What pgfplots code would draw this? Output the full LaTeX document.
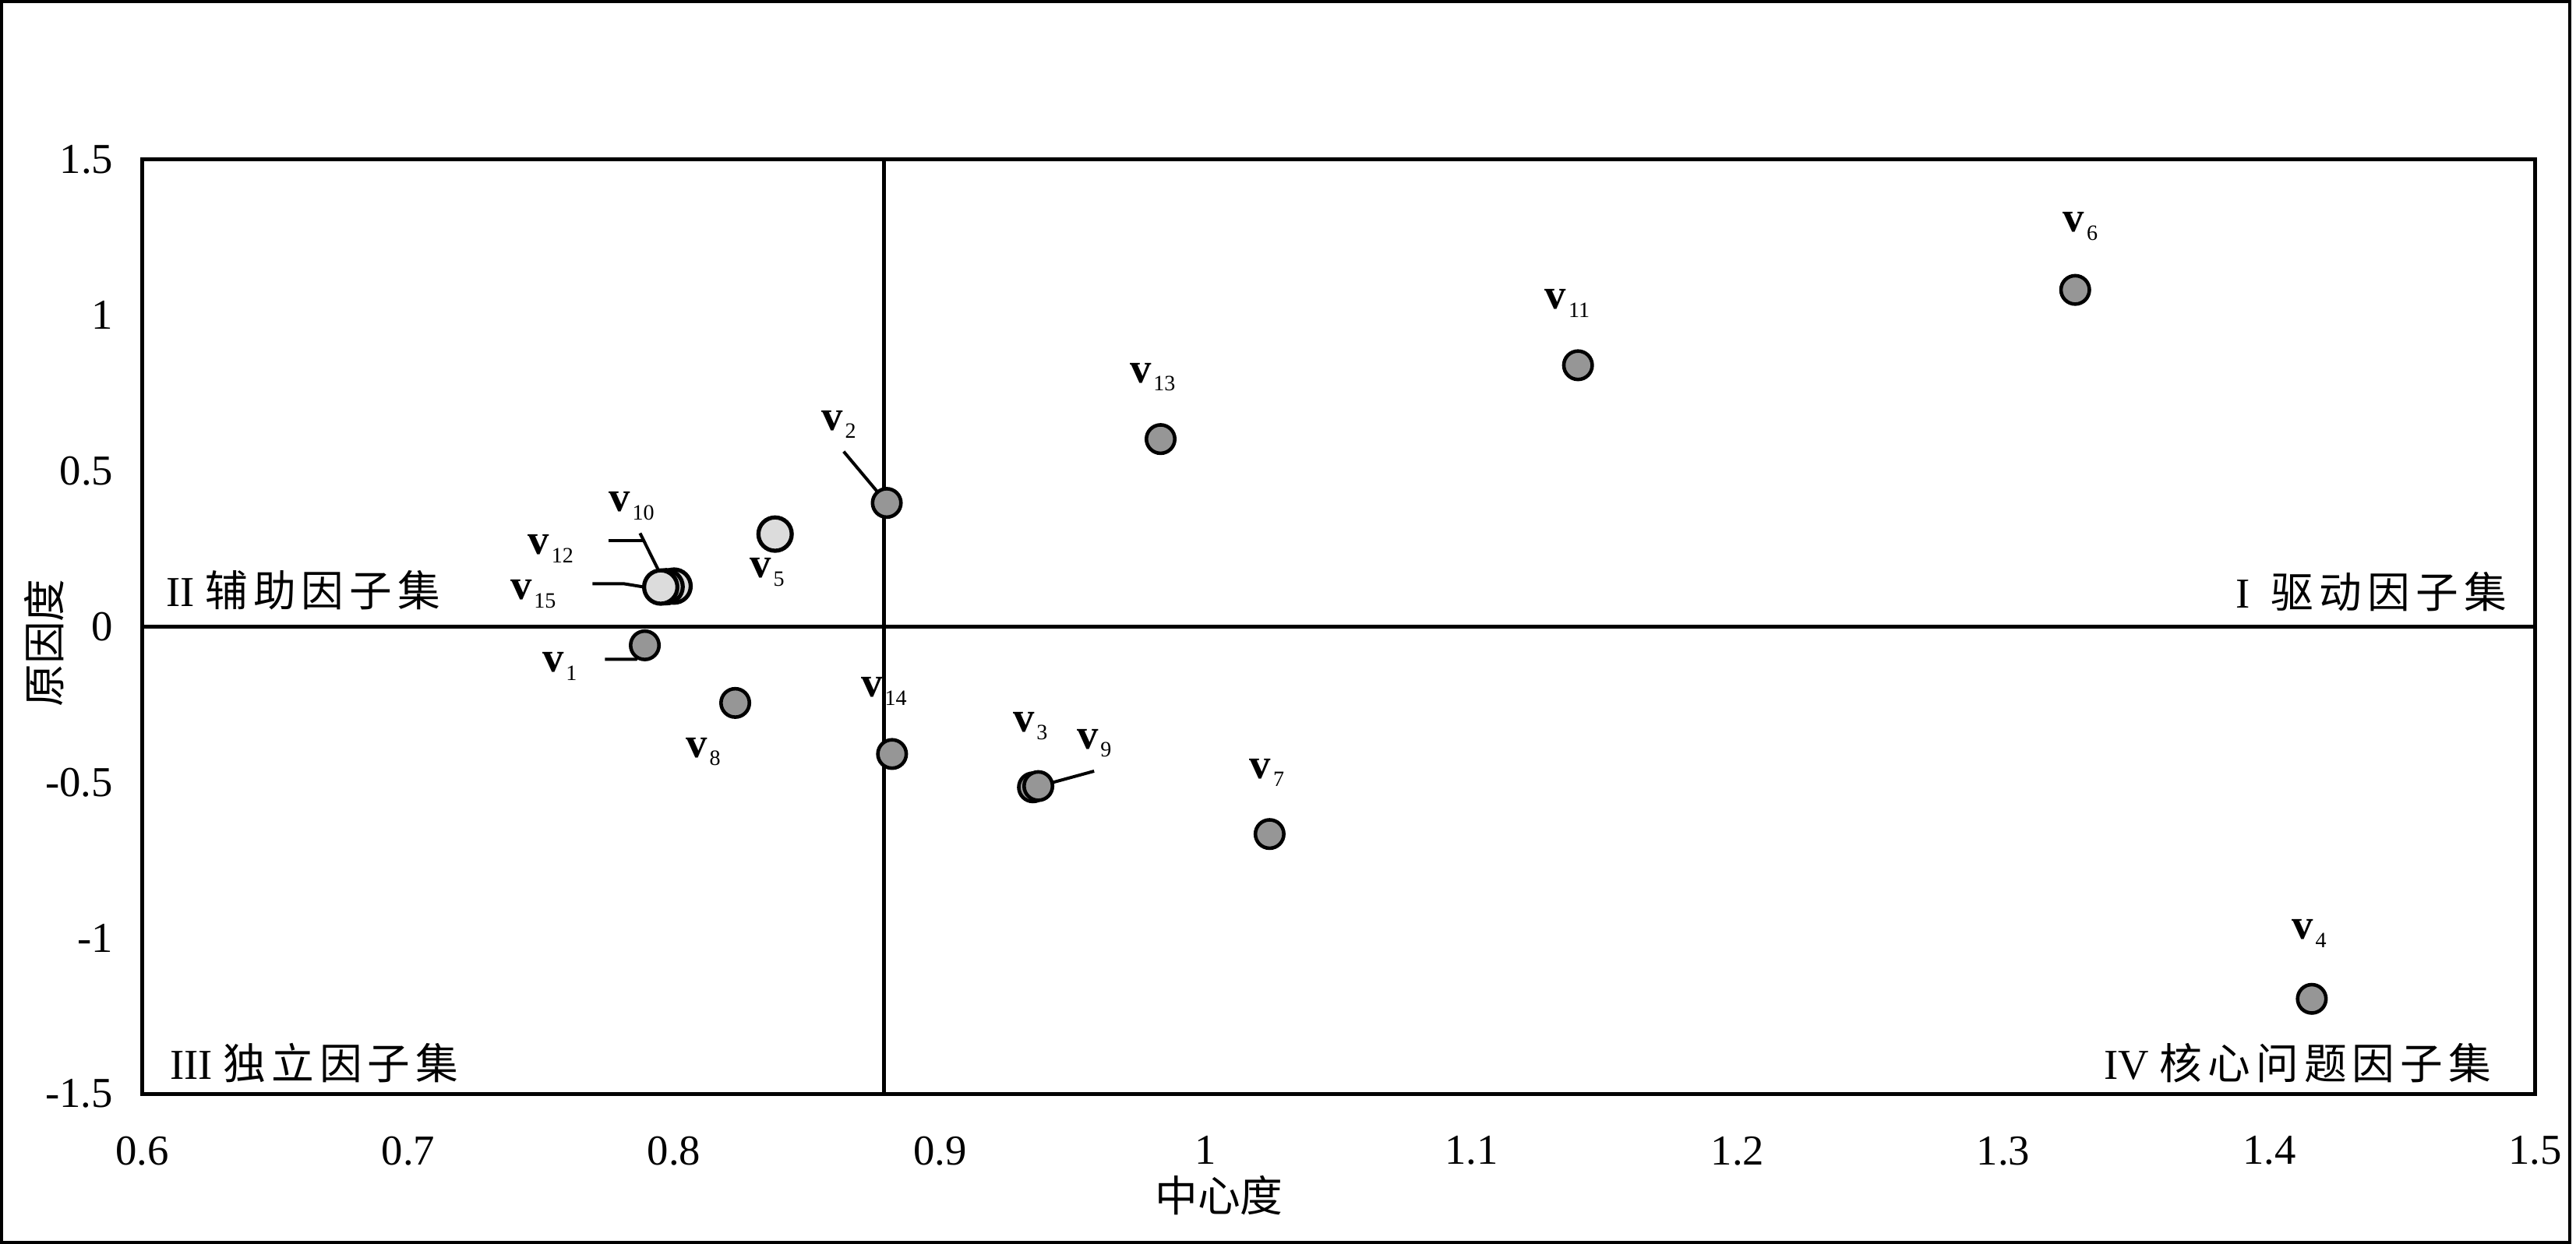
\documentclass[border=0pt]{standalone}
\usepackage{fontspec}
\setmainfont{Liberation Serif}
\newfontfamily\cjk{Noto Sans CJK SC}
\newfontfamily\cjkq[LetterSpace=13]{Noto Sans CJK SC}
\usepackage{pgfplots}
\pgfplotsset{compat=1.18}
\definecolor{ptgray}{HTML}{969696}
\definecolor{ptlight}{HTML}{DCDCDC}
% label "v" with subscript
\newcommand{\vl}[1]{\textbf{v}\kern0.4pt\raisebox{-1.5pt}{\fontsize{4}{5}\selectfont #1}}

\begin{document}
\fontsize{7.8}{9}\selectfont
\begin{tikzpicture}
\draw[line width=0.57pt] (0.01,0.01) rectangle (16.52,7.99);
\begin{axis}[
    at={(0.915cm,0.965cm)}, anchor=south west,
    scale only axis,
    width=15.385cm, height=6.01cm,
    xmin=0.6, xmax=1.5,
    ymin=-1.5, ymax=1.5,
    xtick={0.6,0.7,0.8,0.9,1,1.1,1.2,1.3,1.4,1.5},
    ytick={-1.5,-1,-0.5,0,0.5,1,1.5},
    major tick length=0pt,
    axis line style={line width=0.7pt},
    /pgf/number format/assume math mode=true,
    tick label style={font=\fontsize{7.8}{9}\selectfont},
    xticklabel style={yshift=-0.175cm},
    yticklabel style={xshift=-0.09cm},
    xlabel={\cjk 中心度},
    ylabel={\cjk 原因度},
    label style={font=\fontsize{7.8}{9}\selectfont},
    xlabel style={at={(axis description cs:0.45,-0.109)}, anchor=center},
    ylabel style={at={(axis description cs:-0.041,0.4825)}, anchor=center},
    clip=false,
]

% quadrant lines
\addplot[black, line width=0.7pt] coordinates {(0.6,0) (1.5,0)};
\addplot[black, line width=0.7pt] coordinates {(0.879,-1.5) (0.879,1.5)};

% leader lines
\draw[line width=0.57pt] (axis cs:0.8638,0.562) -- (axis cs:0.880,0.397);
\draw[line width=0.57pt] (axis cs:0.7872,0.300) -- (axis cs:0.7939,0.185);
\draw[line width=0.57pt] (axis cs:0.7755,0.275) -- (axis cs:0.7884,0.275);
\draw[line width=0.57pt] (axis cs:0.7693,0.1374) -- (axis cs:0.7813,0.1374) -- (axis cs:0.7884,0.1275);
\draw[line width=0.57pt] (axis cs:0.958,-0.464) -- (axis cs:0.9355,-0.5165);

% light points: v5, v10, v12, v15
\addplot[only marks, mark=*, mark size=3.05pt,
    mark options={fill=ptlight, draw=black, line width=0.75pt}]
    coordinates {(0.838,0.297) (0.800,0.130) (0.797,0.128) (0.795,0.127)};

% gray points
\addplot[only marks, mark=*, mark size=2.6pt,
    mark options={fill=ptgray, draw=black, line width=0.65pt}]
    coordinates {
    (0.789,-0.060) (0.880,0.397) (0.935,-0.516) (1.416,-1.195)
    (1.327,1.081) (1.024,-0.666) (0.823,-0.245) (0.937,-0.512)
    (1.140,0.839) (0.983,0.602) (0.882,-0.409)
    };

\draw[line width=0.57pt] (axis cs:0.774,-0.1047) -- (axis cs:0.7857,-0.1047) -- (axis cs:0.7887,-0.0673);

% point labels
\node[inner sep=0pt] at (axis cs:1.329,1.285) {\vl{6}};
\node[inner sep=0pt] at (axis cs:1.136,1.038) {\vl{11}};
\node[inner sep=0pt] at (axis cs:0.980,0.801) {\vl{13}};
\node[inner sep=0pt] at (axis cs:0.862,0.649) {\vl{2}};
\node[inner sep=0pt] at (axis cs:0.784,0.387) {\vl{10}};
\node[inner sep=0pt] at (axis cs:0.7536,0.250) {\vl{12}};
\node[inner sep=0pt] at (axis cs:0.747,0.105) {\vl{15}};
\node[inner sep=0pt] at (axis cs:0.835,0.175) {\vl{5}};
\node[inner sep=0pt] at (axis cs:0.757,-0.127) {\vl{1}};
\node[inner sep=0pt] at (axis cs:0.811,-0.402) {\vl{8}};
\node[inner sep=0pt] at (axis cs:0.879,-0.207) {\vl{14}};
\node[inner sep=0pt] at (axis cs:0.934,-0.319) {\vl{3}};
\node[inner sep=0pt] at (axis cs:0.958,-0.374) {\vl{9}};
\node[inner sep=0pt] at (axis cs:1.023,-0.469) {\vl{7}};
\node[inner sep=0pt] at (axis cs:1.415,-0.986) {\vl{4}};

% quadrant names
\node[anchor=west, inner sep=0pt] at (axis cs:0.6085,0.117) {II {\cjkq 辅助因子集}};
\node[anchor=east, inner sep=0pt] at (axis cs:1.4897,0.112) {I\ \ {\cjkq 驱动因子集}};
\node[anchor=west, inner sep=0pt] at (axis cs:0.610,-1.402) {III {\cjkq 独立因子集}};
\node[anchor=east, inner sep=0pt] at (axis cs:1.4839,-1.402) {IV {\cjkq 核心问题因子集}};

\end{axis}
\end{tikzpicture}
\end{document}
